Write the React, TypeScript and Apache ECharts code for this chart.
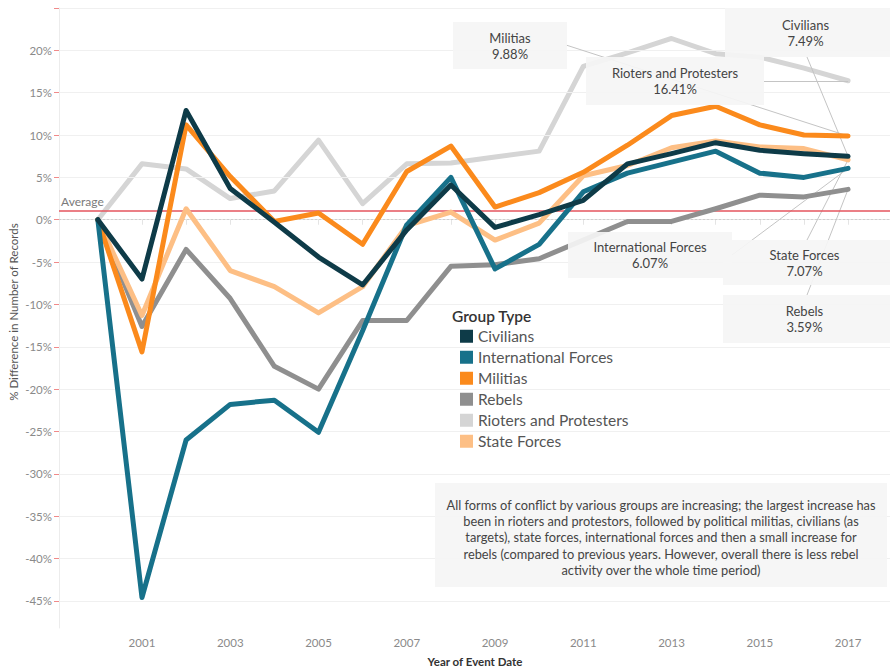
import React, { useEffect, useRef } from "react";
import * as echarts from "echarts";

const years = [2000, 2001, 2002, 2003, 2004, 2005, 2006, 2007, 2008, 2009, 2010, 2011, 2012, 2013, 2014, 2015, 2016, 2017];
const labelYears = [2001, 2003, 2005, 2007, 2009, 2011, 2013, 2015, 2017];

const civilians = [0, -7.0, 12.9, 3.7, -0.3, -4.4, -7.7, -1.2, 4.1, -0.9, 0.6, 2.3, 6.6, 7.8, 9.1, 8.2, 7.8, 7.49];
const internationalForces = [0, -44.6, -26.0, -21.8, -21.3, -25.1, -13.1, -0.6, 5.0, -5.8, -2.9, 3.3, 5.5, 6.8, 8.1, 5.5, 5.0, 6.07];
const militias = [0, -15.6, 11.2, 5.1, -0.2, 0.8, -2.9, 5.7, 8.7, 1.5, 3.2, 5.6, 8.8, 12.3, 13.4, 11.2, 10.0, 9.88];
const rebels = [0, -12.6, -3.5, -9.3, -17.3, -20.0, -11.9, -11.9, -5.5, -5.3, -4.6, -2.4, -0.2, -0.2, 1.3, 2.9, 2.7, 3.59];
const rioters = [0, 6.6, 6.0, 2.5, 3.4, 9.4, 1.9, 6.6, 6.7, 7.4, 8.1, 18.1, 19.7, 21.4, 19.6, 19.2, 17.9, 16.41];
const stateForces = [0, -11.3, 1.3, -6.0, -7.9, -11.0, -7.9, -0.7, 0.9, -2.4, -0.4, 5.2, 6.4, 8.5, 9.3, 8.6, 8.4, 7.07];

const yTicks = [-45, -40, -35, -30, -25, -20, -15, -10, -5, 0, 5, 10, 15, 20, 25];
const yLabels = [-45, -40, -35, -30, -25, -20, -15, -10, -5, 0, 5, 10, 15, 20];
const averageValue = 1.12;

const groupNames = ["Civilians", "International Forces", "Militias", "Rebels", "Rioters and Protesters", "State Forces"];
const groupValues = [civilians, internationalForces, militias, rebels, rioters, stateForces];
const groupColors = ["#0e3b48", "#17718a", "#fb8a1c", "#8f8f8f", "#d5d5d5", "#fdbf85"];
const groupZ = [9, 8, 7, 5, 4, 6];

const FONT = "Lato";

const commentary = [
  "All forms of conflict by various groups are increasing; the largest increase has",
  "been in rioters and protestors, followed by political militias, civilians (as",
  "targets), state forces, international forces and then a small increase for",
  "rebels (compared to previous years. However, overall there is less rebel",
  "activity over the whole time period)",
];

// annotation boxes: [name, value label, rect x, y, w, h, leader start x, y]
const boxes: Array<[string, string, number, number, number, number, number, number]> = [
  ["Militias", "9.88%", 453, 22, 114, 47, 566, 45],
  ["Rioters and Protesters", "16.41%", 586, 57, 178, 48, 764, 81],
  ["Civilians", "7.49%", 725, 8, 165, 49, 807, 57],
  ["International Forces", "6.07%", 568, 232, 164, 46, 732, 255],
  ["State Forces", "7.07%", 723, 240, 167, 45, 807, 240],
  ["Rebels", "3.59%", 723, 295, 167, 48, 807, 295],
];
const boxSeriesIndex = [2, 4, 0, 1, 5, 3];

export default function App() {
  const ref = useRef<HTMLDivElement>(null);
  useEffect(() => {
    const chart = echarts.init(ref.current!, null, { renderer: "svg" });

    const lineSeries = groupNames.map((name, i) => ({
      name,
      type: "line",
      data: years.map((y, k) => [y, groupValues[i][k]]),
      symbol: "none",
      z: groupZ[i],
      lineStyle: { color: groupColors[i], width: 5, cap: "round", join: "round" },
      itemStyle: { color: groupColors[i] },
      emphasis: { disabled: true },
    }));

    const last = years.length - 1;
    const leaderData = boxes.map((b, i) => {
      const si = boxSeriesIndex[i];
      return [{ x: b[6], y: b[7] }, { coord: [years[last], groupValues[si][last]] }];
    });

    const boxFill = "rgba(245,245,245,0.92)";
    const graphics: any[] = [];
    boxes.forEach((b) => {
      graphics.push({
        type: "rect",
        z: 100,
        shape: { x: b[2], y: b[3], width: b[4], height: b[5] },
        style: { fill: boxFill },
      });
      const cx = b[2] + b[4] / 2 - (b[2] + b[4] >= 889 ? 2 : 0);
      graphics.push({
        type: "text",
        z: 101,
        x: cx,
        y: b[3] + b[5] / 2 - 8,
        style: { text: b[0], fill: "#444", font: `13px ${FONT}`, align: "center", verticalAlign: "middle" },
      });
      graphics.push({
        type: "text",
        z: 101,
        x: cx,
        y: b[3] + b[5] / 2 + 8,
        style: { text: b[1], fill: "#444", font: `13px ${FONT}`, align: "center", verticalAlign: "middle" },
      });
    });
    graphics.push({
      type: "rect",
      z: 100,
      shape: { x: 435, y: 483, width: 452, height: 104 },
      style: { fill: boxFill },
    });
    commentary.forEach((line, i) => {
      graphics.push({
        type: "text",
        z: 101,
        x: 661,
        y: 505 + i * 16.2,
        style: { text: line, fill: "#444", font: `12.8px ${FONT}`, align: "center", verticalAlign: "middle" },
      });
    });
    graphics.push({
      type: "text",
      z: 101,
      x: 452,
      y: 316,
      style: { text: "Group Type", fill: "#333", font: `600 15.5px ${FONT}`, align: "left", verticalAlign: "middle" },
    });
    graphics.push({
      type: "text",
      x: 13,
      y: 312,
      rotation: Math.PI / 2,
      style: { text: "% Difference in Number of Records", fill: "#555", font: `11.5px ${FONT}`, align: "center", verticalAlign: "middle" },
    });
    graphics.push({
      type: "text",
      x: 475,
      y: 661,
      style: { text: "Year of Event Date", fill: "#333", font: `bold 11.5px ${FONT}`, align: "center", verticalAlign: "middle" },
    });

    const option: any = {
      animation: false,
      textStyle: { fontFamily: FONT },
      grid: { left: 59, right: 0, top: 8, bottom: 44, containLabel: false },
      xAxis: {
        type: "value",
        min: 1999.12,
        max: 2017.95,
        axisLine: { show: true, lineStyle: { color: "#e4e4e4", width: 1 } },
        axisTick: { show: true, customValues: years, length: 5, lineStyle: { color: "#e4e4e4" } },
        axisLabel: {
          customValues: labelYears,
          formatter: (v: number) => String(Math.round(v)),
          color: "#8a8a8a",
          fontSize: 11.5,
          margin: 8,
        },
        splitLine: { show: false },
      },
      yAxis: {
        type: "value",
        min: -48.2,
        max: 25,
        axisLine: { show: true, lineStyle: { color: "#ececec", width: 1 } },
        axisTick: { show: true, customValues: yTicks, length: 5, lineStyle: { color: "#f08a8a" } },
        axisLabel: {
          customValues: yLabels,
          formatter: (v: number) => `${Math.round(v)}%`,
          color: "#8a8a8a",
          fontSize: 11.5,
          margin: 7,
        },
        splitLine: { show: false },
      },
      legend: {
        data: groupNames,
        orient: "vertical",
        left: 455,
        top: 323,
        icon: "rect",
        itemWidth: 13,
        itemHeight: 13,
        itemGap: 4.5,
        selectedMode: false,
        textStyle: { fontSize: 15.5, color: "#555", lineHeight: 16.5, fontFamily: FONT },
      },
      graphic: graphics,
      series: [
        {
          name: "grid",
          type: "line",
          data: [],
          z: 1,
          silent: true,
          markLine: {
            silent: true,
            symbol: "none",
            label: { show: false },
            lineStyle: { color: "#f0f0f0", width: 1, type: "solid" },
            data: yTicks.filter((v) => v !== 0).map((v) => ({ yAxis: v })),
          },
        },
        {
          name: "zero",
          type: "line",
          data: [],
          z: 1,
          silent: true,
          markLine: {
            silent: true,
            symbol: "none",
            label: { show: false },
            lineStyle: { color: "#cfcfcf", width: 1, type: [2, 2] },
            data: [{ yAxis: 0 }],
          },
        },
        ...lineSeries,
        {
          name: "leaders",
          type: "line",
          data: [],
          z: 10,
          silent: true,
          markLine: {
            silent: true,
            symbol: "none",
            label: { show: false },
            lineStyle: { color: "#c4c4c4", width: 1, type: "solid" },
            data: leaderData,
          },
        },
        {
          name: "average",
          type: "line",
          data: [],
          z: 11,
          silent: true,
          markLine: {
            silent: true,
            symbol: "none",
            lineStyle: { color: "#e5545e", width: 1.5, type: "solid" },
            label: {
              show: true,
              position: "insideStartTop",
              formatter: "Average",
              color: "#7a7a7a",
              fontSize: 12,
              fontFamily: FONT,
              distance: [2, 3],
            },
            data: [{ yAxis: averageValue }],
          },
        },
      ],
    };
    chart.setOption(option);
    return () => chart.dispose();
  }, []);
  return <div ref={ref} style={{ position: "absolute", left: 0, top: 0, width: 890, height: 672 }} />;
}
